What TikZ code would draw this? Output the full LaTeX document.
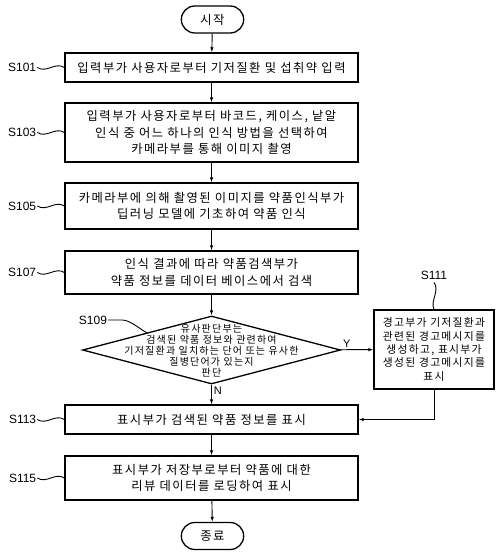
\documentclass[tikz,border=0pt]{standalone}
\usepackage{fontspec}
\setmainfont{Liberation Sans}
\newfontfamily\krfont[LetterSpace=12]{Noto Sans CJK KR}
\usepackage{tikz}
\usetikzlibrary{arrows.meta,shapes.geometric,shapes.misc,positioning}

\tikzset{
  stepbox/.style={draw, line width=1.3pt, minimum width=293pt, align=center,
    inner sep=2pt, font=\krfont\fontsize{12.3}{16.5}\selectfont},
  termbox/.style={draw, line width=1.3pt, rounded rectangle, minimum width=69pt,
    minimum height=27pt, font=\krfont\fontsize{12.3}{14}\selectfont},
  decision/.style={draw, line width=1.3pt, diamond, inner sep=0pt,
    minimum width=258pt, minimum height=68pt},
  steplabel/.style={font=\fontsize{12}{14}\selectfont, inner sep=1pt},
  squig/.style={line width=0.9pt},
  arr/.style={line width=0.9pt, -{Latex[length=5pt,width=3.5pt]}}
}

\begin{document}
\begin{tikzpicture}[x=1pt, y=-1pt]
  \useasboundingbox (0,0) rectangle (500,553);
  % main column
  \node[termbox] (start) at (212.5,19.5) {시작};
  \node[stepbox, minimum height=29pt] (s101) at (211.5,67.5)
    {입력부가 사용자로부터 기저질환 및 섭취약 입력};
  \node[stepbox, minimum height=59pt] (s103) at (211.5,132.5)
    {입력부가 사용자로부터 바코드, 케이스, 낱알\\
     인식 중 어느 하나의 인식 방법을 선택하여\\
     카메라부를 통해 이미지 촬영};
  \node[stepbox, minimum height=46pt] (s105) at (211.5,206)
    {카메라부에 의해 촬영된 이미지를 약품인식부가\\
     딥러닝 모델에 기초하여 약품 인식};
  \node[stepbox, minimum height=43pt] (s107) at (211.5,272.5)
    {인식 결과에 따라 약품검색부가\\
     약품 정보를 데이터 베이스에서 검색};
  \node[decision] (s109) at (211.5,350) {};
  \node[align=center, inner sep=0pt, font=\krfont\fontsize{10}{11}\selectfont]
    (s109txt) at ([yshift=-1pt]s109.center)
    {유사판단부는\\
     검색된 약품 정보와 관련하여\\
     기저질환과 일치하는 단어 또는 유사한\\
     질병단어가 있는지\\
     판단};
  \node[stepbox, minimum height=29pt] (s113) at (211.5,419.5)
    {표시부가 검색된 약품 정보를 표시};
  \node[stepbox, minimum height=44pt] (s115) at (211.5,478)
    {표시부가 저장부로부터 약품에 대한\\
     리뷰 데이터를 로딩하여 표시};
  \node[termbox] (end) at (212.5,536) {종료};
  % side branch
  \node[stepbox, minimum width=120pt, minimum height=79pt, inner sep=1pt,
    font=\krfont\fontsize{10.8}{13.4}\selectfont] (s111) at (434,349.5)
    {경고부가 기저질환과\\
     관련된 경고메시지를\\
     생성하고, 표시부가\\
     생성된 경고메시지를\\
     표시};
  % connectors
  \draw[arr] (start) -- (s101);
  \draw[arr] (s101) -- (s103);
  \draw[arr] (s103) -- (s105);
  \draw[arr] (s105) -- (s107);
  \draw[arr] (s107) -- (s109);
  \draw[arr] (s109) -- node[pos=0.3, right=1pt, steplabel, font=\fontsize{11}{13}\selectfont] (nlbl) {N} (s113);
  \draw[arr] (s109) -- node[pos=0.2, above=1pt, steplabel, font=\fontsize{11}{13}\selectfont] (ylbl) {Y} (s111);
  \draw[arr] (s111.south) |- (s113.east);
  \draw[arr] (s113) -- (s115);
  \draw[arr] (s115) -- (end);
  % step labels
  \foreach \nd/\txt in {s101/S101, s103/S103, s105/S105, s107/S107,
                        s113/S113, s115/S115}
  {%
    \node[steplabel, left=27pt of \nd] (l\nd) {\txt};
    \draw[squig] (l\nd.east) .. controls +(9pt,-6pt) and +(-9pt,6pt) .. (\nd.west);
  }
  \node[steplabel] (ls109) at (93,320) {S109};
  \draw[squig] (ls109.east) -- +(14pt,0pt) .. controls +(8pt,0pt) and +(-6pt,3pt) .. (s109.north west);
  \node[steplabel] (ls111) at (434,275) {S111};
  \draw[squig] ([yshift=-2pt]ls111.south) .. controls +(6pt,-8pt) and +(-4pt,8pt) .. (s111.north);
\end{tikzpicture}
\end{document}
